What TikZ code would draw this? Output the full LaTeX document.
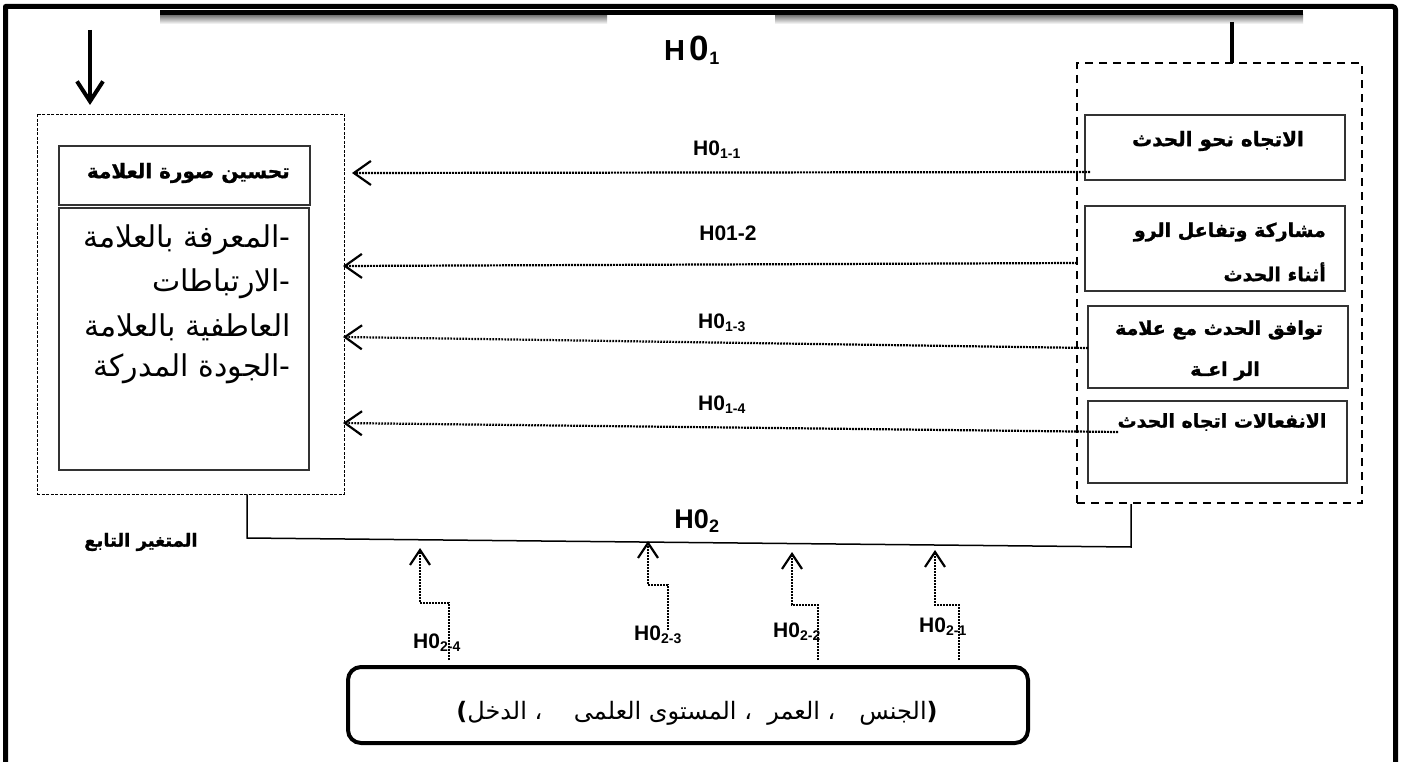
\documentclass[tikz,border=0pt]{standalone}
\usepackage{fontspec}
\setmainfont{Liberation Sans}
\newfontfamily\arabicfont[Script=Arabic]{DejaVu Sans}
\newfontfamily\arabicbold[Script=Arabic, FakeBold=1.2]{DejaVu Sans Bold}
\TeXXeTstate=1
\usetikzlibrary{arrows.meta}
\tikzset{
  frameline/.style={line width=5pt, line join=round},
  innerbox/.style={draw=black!80, line width=1.3pt, minimum width=#1, inner sep=0pt},
  hyparrow/.style={line width=2.2pt, dash pattern=on 1.8pt off 1.2pt,
    -{Straight Barb[length=17pt,width=24pt]}},
  uparrow/.style={line width=2.2pt, dash pattern=on 1.8pt off 1.2pt,
    -{Straight Barb[length=15pt,width=20pt]}},
  hlabel/.style={font=\fontsize{21}{24}\selectfont\bfseries, inner sep=0pt},
  artext/.style={font=\arabicfont\fontsize{#1}{#1}\selectfont, inner sep=0pt},
  arbold/.style={font=\arabicbold\fontsize{#1}{#1}\selectfont, inner sep=0pt},
}
\begin{document}
\begin{tikzpicture}[x=1pt,y=-1pt]
\useasboundingbox (0,0) rectangle (1405,762);
\fill[white] (0,0) rectangle (1405,762);

% outer frame, open at the bottom
\draw[frameline] (5.5,762) -- (5.5,6.5) -- (1392,6.5) [rounded corners=3pt] -- (1395.5,6.5) -- (1395.5,762);

% heavy rule under the top edge with its soft shadow
\shade[top color=black!55, bottom color=white] (160,15) rectangle (607,24);
\shade[top color=black!55, bottom color=white] (775,15) rectangle (1303,24);
\draw[line width=5pt] (160,12.5) -- (1303,12.5);

% heading
\node[inner sep=0pt, anchor=base west] (h01) at (664,61)
  {\bfseries\fontsize{29}{29}\selectfont H\,\fontsize{35}{35}\selectfont 0\fontsize{18}{18}\selectfont\raisebox{-4pt}{1}};

% arrow down into the dependent variable
\coordinate (dtop) at (90,30);
\coordinate (dtip) at (90,105);
\draw[line width=4pt, -{Straight Barb[length=20pt,width=26pt]}] (dtop) -- (dtip);

% dependent variable block
\node[draw, line width=0.9pt, dash pattern=on 3pt off 1.5pt, minimum width=307pt, minimum height=380pt, inner sep=0pt] (dep) at (190.5,304) {};
\node[innerbox=251pt, minimum height=59pt] (deptitle) at (184.5,175.5) {};
\node[innerbox=250pt, minimum height=262pt] (deplist) at (184,339) {};
\node[arbold=20, anchor=east] (dtt) at (290,173) {\beginR تحسين صورة العلامة\endR};
\node[artext=30, anchor=east] (dl1) at (291,240) {\beginR -المعرفة بالعلامة\endR};
\node[artext=30, anchor=east] (dl2) at (291,284) {\beginR -الارتباطات\endR};
\node[artext=30, anchor=east] (dl3) at (291,327) {\beginR العاطفية بالعلامة\endR};
\node[artext=30, anchor=east] (dl4) at (291,369) {\beginR -الجودة المدركة\endR};
\node[arbold=18] (deplabel) at (141,542) {\beginR المتغير التابع\endR};

% independent variable block
\coordinate (ltop) at (1232,22);
\draw[line width=4pt] (ltop) -- (1232,63);
\node[draw, line width=2.2pt, dash pattern=on 8pt off 6pt, minimum width=285pt, minimum height=440pt, inner sep=0pt] (ind) at (1219.5,283) {};
\node[innerbox=260pt, minimum height=65pt] (ib1) at (1215,147.5) {};
\node[innerbox=260pt, minimum height=85pt] (ib2) at (1215,248.5) {};
\node[innerbox=260pt, minimum height=82pt] (ib3) at (1218,347) {};
\node[innerbox=259pt, minimum height=82pt] (ib4) at (1217.5,442) {};
\node[arbold=20] (t1) at (1218,141) {\beginR الاتجاه نحو الحدث\endR};
\node[arbold=19, anchor=east] (t2a) at (1326,232) {\beginR مشاركة وتفاعل الرو\endR};
\node[arbold=19, anchor=east] (t2b) at (1326,272) {\beginR أثناء الحدث\endR};
\node[arbold=19] (t3a) at (1219,330) {\beginR توافق الحدث مع علامة\endR};
\node[arbold=19] (t3b) at (1225,371) {\beginR الر اعـة\endR};
\node[arbold=19] (t4) at (1222,422) {\beginR الانفعالات اتجاه الحدث\endR};

% first-level hypotheses
\coordinate (s1) at (1090,172); \coordinate (e1) at (352,173);
\coordinate (s2) at (1077,263); \coordinate (e2) at (343,266);
\coordinate (s3) at (1088,348); \coordinate (e3) at (343,337);
\coordinate (s4) at (1118,432); \coordinate (e4) at (343,423);
\draw[hyparrow] (s1) -- (e1);
\draw[hyparrow] (s2) -- (e2);
\draw[hyparrow] (s3) -- (e3);
\draw[hyparrow] (s4) -- (e4);
\node[hlabel] (l11) at (717,150) {H0\textsubscript{\fontsize{14}{14}\selectfont 1-1}};
\node[hlabel] (l12) at (728,233) {H01-2};
\node[hlabel] (l13) at (722,323) {H0\textsubscript{\fontsize{14}{14}\selectfont 1-3}};
\node[hlabel] (l14) at (722,405) {H0\textsubscript{\fontsize{14}{14}\selectfont 1-4}};

% joint line between the two blocks
\coordinate (jl) at (247,538);
\coordinate (jr) at (1131,547);
\draw[line width=1.5pt] (dep.south -| jl) -- (jl) -- (jr) -- (ind.south -| jr);
\node[inner sep=0pt, font=\fontsize{27}{27}\selectfont\bfseries] (h02) at (697,521)
  {H0\textsubscript{\fontsize{18}{18}\selectfont 2}};

% demographic variables
\node[draw, line width=4pt, rounded corners=13pt, minimum width=680pt, minimum height=76pt, inner sep=0pt] (demo) at (688,705) {};
\node[artext=24] (demotext) at (697,713)
  {{\bfseries )}\beginR الجنس\quad ، العمر \ ، المستوى العلمى \quad ، الدخل\endR{\bfseries (}};

% second-level hypotheses
\coordinate (b4) at (449,660); \coordinate (k4) at (420,603); \coordinate (e24) at (420,548);
\coordinate (b3) at (668,630); \coordinate (k3) at (648,585); \coordinate (e23) at (648,541);
\coordinate (b2) at (818,660); \coordinate (k2) at (792,605); \coordinate (e22) at (792,552);
\coordinate (b1) at (959,660); \coordinate (k1) at (935,605); \coordinate (e21) at (935,550);
\draw[uparrow] (b4) |- (k4) -- (e24);
\draw[uparrow] (b3) |- (k3) -- (e23);
\draw[uparrow] (b2) |- (k2) -- (e22);
\draw[uparrow] (b1) |- (k1) -- (e21);
\node[hlabel] (l24) at (437,643) {H0\textsubscript{\fontsize{14}{14}\selectfont 2-4}};
\node[hlabel] (l23) at (658,635) {H0\textsubscript{\fontsize{14}{14}\selectfont 2-3}};
\node[hlabel] (l22) at (797,632) {H0\textsubscript{\fontsize{14}{14}\selectfont 2-2}};
\node[hlabel] (l21) at (943,627) {H0\textsubscript{\fontsize{14}{14}\selectfont 2-1}};
\end{tikzpicture}
\end{document}
